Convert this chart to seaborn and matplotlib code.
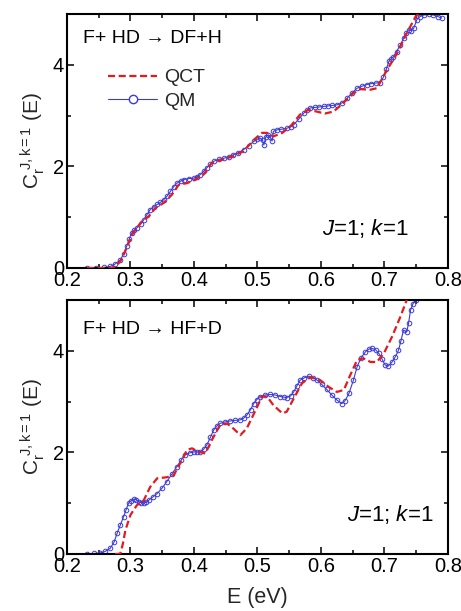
import numpy as np
import pandas as pd
import matplotlib
matplotlib.use("Agg")
import matplotlib.pyplot as plt
from matplotlib.ticker import MultipleLocator
from matplotlib.lines import Line2D
import seaborn as sns

# ---------------- data ----------------
# Top panel: F + HD -> DF + H
top_qm_E = [0.2315, 0.245, 0.258, 0.268, 0.276, 0.284, 0.289, 0.294, 0.298, 0.302, 0.306, 0.310,
            0.316, 0.321, 0.326, 0.331, 0.337, 0.342, 0.347, 0.352, 0.358, 0.363, 0.368, 0.373,
            0.379, 0.384, 0.392, 0.400, 0.405, 0.410, 0.415, 0.420, 0.426, 0.431, 0.439, 0.447,
            0.455, 0.462, 0.470, 0.478, 0.486, 0.494, 0.499, 0.504, 0.508, 0.510, 0.513, 0.517,
            0.520, 0.523, 0.525, 0.531, 0.537, 0.546, 0.552, 0.557, 0.565, 0.573, 0.578, 0.583,
            0.590, 0.597, 0.604, 0.611, 0.618, 0.625, 0.633, 0.641, 0.649, 0.657, 0.665, 0.672,
            0.679, 0.686, 0.693, 0.698, 0.703, 0.707, 0.711, 0.714, 0.719, 0.725, 0.730, 0.734,
            0.738, 0.742, 0.746, 0.751, 0.756, 0.762, 0.770, 0.777, 0.784, 0.790]
top_qm_C = [0.00, 0.00, 0.01, 0.03, 0.08, 0.16, 0.27, 0.43, 0.57, 0.69, 0.75, 0.79,
            0.86, 0.95, 1.05, 1.15, 1.21, 1.25, 1.29, 1.34, 1.42, 1.51, 1.60, 1.67,
            1.71, 1.74, 1.76, 1.77, 1.80, 1.84, 1.90, 1.97, 2.04, 2.10, 2.14, 2.16,
            2.19, 2.23, 2.27, 2.33, 2.40, 2.49, 2.53, 2.56, 2.52, 2.42, 2.58, 2.62,
            2.58, 2.50, 2.69, 2.72, 2.73, 2.75, 2.78, 2.82, 2.93, 3.05, 3.11, 3.15,
            3.16, 3.17, 3.18, 3.19, 3.20, 3.21, 3.25, 3.34, 3.45, 3.54, 3.58, 3.61,
            3.63, 3.64, 3.65, 3.75, 3.92, 4.07, 4.12, 4.16, 4.26, 4.39, 4.52, 4.62,
            4.69, 4.67, 4.72, 4.89, 4.95, 4.98, 4.99, 4.98, 4.95, 4.92]

top_qct_E = [0.2315, 0.250, 0.271, 0.278, 0.284, 0.290, 0.297, 0.303, 0.310, 0.318, 0.329,
             0.339, 0.352, 0.365, 0.376, 0.389, 0.402, 0.415, 0.428, 0.444, 0.462, 0.478,
             0.494, 0.507, 0.515, 0.525, 0.539, 0.552, 0.567, 0.580, 0.593, 0.606, 0.620,
             0.635, 0.651, 0.662, 0.678, 0.688, 0.704, 0.720, 0.735, 0.749, 0.754]
top_qct_C = [0.00, 0.00, 0.00, 0.05, 0.13, 0.28, 0.49, 0.66, 0.79, 0.92, 1.02,
             1.18, 1.28, 1.44, 1.64, 1.67, 1.74, 1.84, 2.07, 2.13, 2.20, 2.30,
             2.52, 2.66, 2.66, 2.59, 2.66, 2.79, 3.02, 3.11, 3.08, 3.04, 3.08,
             3.25, 3.44, 3.52, 3.51, 3.54, 3.90, 4.23, 4.62, 4.95, 5.00]

# Bottom panel: F + HD -> HF + D
bot_qm_E = [0.2315, 0.242, 0.252, 0.260, 0.268, 0.274, 0.279, 0.284, 0.289, 0.293, 0.297,
            0.301, 0.305, 0.309, 0.313, 0.317, 0.321, 0.325, 0.329, 0.335, 0.342, 0.350,
            0.357, 0.365, 0.373, 0.380, 0.386, 0.393, 0.400, 0.405, 0.410, 0.415, 0.420,
            0.426, 0.431, 0.436, 0.441, 0.449, 0.457, 0.465, 0.473, 0.478, 0.483, 0.489,
            0.494, 0.499, 0.504, 0.512, 0.520, 0.528, 0.536, 0.541, 0.546, 0.552, 0.557,
            0.562, 0.567, 0.574, 0.581, 0.588, 0.594, 0.601, 0.609, 0.617, 0.625, 0.633,
            0.638, 0.644, 0.651, 0.657, 0.663, 0.670, 0.675, 0.680, 0.686, 0.691, 0.696,
            0.701, 0.706, 0.712, 0.717, 0.722, 0.726, 0.730, 0.735, 0.738, 0.741, 0.745, 0.749]
bot_qm_C = [0.00, 0.01, 0.02, 0.05, 0.11, 0.23, 0.41, 0.57, 0.73, 0.87, 1.00,
            1.05, 1.08, 1.07, 1.03, 1.01, 1.00, 1.02, 1.06, 1.12, 1.19, 1.30,
            1.42, 1.57, 1.72, 1.85, 1.95, 1.99, 2.01, 2.01, 2.01, 2.06, 2.14,
            2.30, 2.44, 2.52, 2.57, 2.60, 2.62, 2.63, 2.64, 2.67, 2.73, 2.84,
            2.96, 3.04, 3.10, 3.13, 3.14, 3.13, 3.10, 3.09, 3.08, 3.11, 3.19,
            3.31, 3.42, 3.47, 3.50, 3.47, 3.42, 3.34, 3.24, 3.13, 3.03, 2.96,
            3.02, 3.16, 3.42, 3.69, 3.86, 3.98, 4.03, 4.05, 4.02, 3.95, 3.84,
            3.72, 3.70, 3.78, 3.88, 4.01, 4.20, 4.41, 4.37, 4.55, 4.80, 4.93, 5.00]

bot_qct_E = [0.2756, 0.281, 0.284, 0.288, 0.292, 0.300, 0.310, 0.321, 0.331, 0.342, 0.357,
             0.368, 0.378, 0.389, 0.397, 0.407, 0.418, 0.428, 0.441, 0.452, 0.462, 0.473,
             0.483, 0.497, 0.507, 0.515, 0.525, 0.539, 0.546, 0.557, 0.570, 0.583, 0.599,
             0.612, 0.625, 0.636, 0.646, 0.657, 0.667, 0.678, 0.688, 0.699, 0.712, 0.725, 0.735]
bot_qct_C = [0.00, 0.00, 0.01, 0.20, 0.47, 0.77, 0.96, 1.06, 1.32, 1.49, 1.51,
             1.55, 1.78, 2.05, 2.08, 2.01, 1.98, 2.24, 2.54, 2.57, 2.47, 2.34,
             2.47, 2.83, 3.10, 3.10, 2.93, 2.77, 2.80, 3.06, 3.36, 3.48, 3.42,
             3.29, 3.19, 3.23, 3.52, 3.82, 3.85, 3.78, 3.78, 3.95, 4.28, 4.67, 5.00]

panel_titles = ["F+ HD \u2192 DF+H", "F+ HD \u2192 HF+D"]
panel_note = "$J$=1; $k$=1"
legend_labels = ["QCT", "QM"]
x_ticks = [0.2, 0.3, 0.4, 0.5, 0.6, 0.7, 0.8]
y_ticks = [0, 2, 4]

# ---------------- style ----------------
sns.set_theme(style="ticks")
plt.rcParams["font.family"] = ["Liberation Sans", "DejaVu Sans"]
plt.rcParams["mathtext.fontset"] = "custom"
plt.rcParams["mathtext.rm"] = "Liberation Sans"
plt.rcParams["mathtext.it"] = "Liberation Sans:italic"
plt.rcParams["mathtext.bf"] = "Liberation Sans:bold"

RED = "#e41a1c"
BLUE = "#3b3bd6"

fig = plt.figure(figsize=(4.61, 6.11), dpi=100)
ax_top = fig.add_axes([0.1453, 0.5614, 0.8265, 0.4157])
ax_bot = fig.add_axes([0.1453, 0.0933, 0.8265, 0.4157])

panels = [
    (ax_top, top_qm_E, top_qm_C, top_qct_E, top_qct_C, panel_titles[0], (0.042, 0.905), (0.895, 0.157)),
    (ax_bot, bot_qm_E, bot_qm_C, bot_qct_E, bot_qct_C, panel_titles[1], (0.042, 0.885), (0.961, 0.154)),
]

for ax, qmE, qmC, qctE, qctC, title, tpos, npos in panels:
    df_qm = pd.DataFrame({"E": qmE, "C": qmC})
    df_qct = pd.DataFrame({"E": qctE, "C": qctC})
    sns.lineplot(data=df_qm, x="E", y="C", ax=ax, color=BLUE, linewidth=0.8,
                 marker="o", markersize=3.3, markerfacecolor="none",
                 markeredgecolor=BLUE, markeredgewidth=0.7, zorder=2)
    sns.lineplot(data=df_qct, x="E", y="C", ax=ax, color=RED, linewidth=1.6,
                 linestyle=(0, (3.2, 1.6)), zorder=3)
    ax.set_xlim(0.2, 0.8)
    ax.set_ylim(0, 5)
    ax.set_xticks(x_ticks)
    ax.set_xticklabels([f"{t:.1f}" for t in x_ticks])
    ax.set_yticks(y_ticks)
    ax.set_yticklabels([str(t) for t in y_ticks])
    ax.xaxis.set_minor_locator(MultipleLocator(0.05))
    ax.yaxis.set_minor_locator(MultipleLocator(1))
    ax.tick_params(which="both", direction="in", top=True, right=True,
                   labelsize=14.5, width=1.1, pad=2, colors="black")
    ax.tick_params(which="major", length=5)
    ax.tick_params(which="minor", length=3)
    for s in ax.spines.values():
        s.set_linewidth(1.5)
        s.set_color("black")
    ax.set_ylabel(r"C$_{\mathrm{r}}^{\ \mathrm{J,k=1}}$ (E)", fontsize=15, labelpad=4)
    ax.set_xlabel("")
    ax.text(tpos[0], tpos[1], title, transform=ax.transAxes, fontsize=14,
            ha="left", va="center", color="black")
    ax.text(npos[0], npos[1], panel_note, transform=ax.transAxes, fontsize=16,
            ha="right", va="center", color="black")

ax_bot.set_xlabel("E (eV)", fontsize=15.5, labelpad=8)

handles = [
    Line2D([], [], color=RED, linewidth=1.6, linestyle=(0, (3.2, 1.6))),
    Line2D([], [], color=BLUE, linewidth=0.8, marker="o", markersize=6,
           markerfacecolor="white", markeredgecolor=BLUE, markevery=[1]),
]
handles[1].set_data([0, 0.5, 1], [0, 0, 0])
ax_top.legend(handles, legend_labels, loc="upper left", bbox_to_anchor=(0.088, 0.815),
              frameon=False, fontsize=14, handlelength=2.5, handletextpad=0.35,
              labelspacing=0.3, borderaxespad=0)

fig.savefig("out.png", dpi=100)
